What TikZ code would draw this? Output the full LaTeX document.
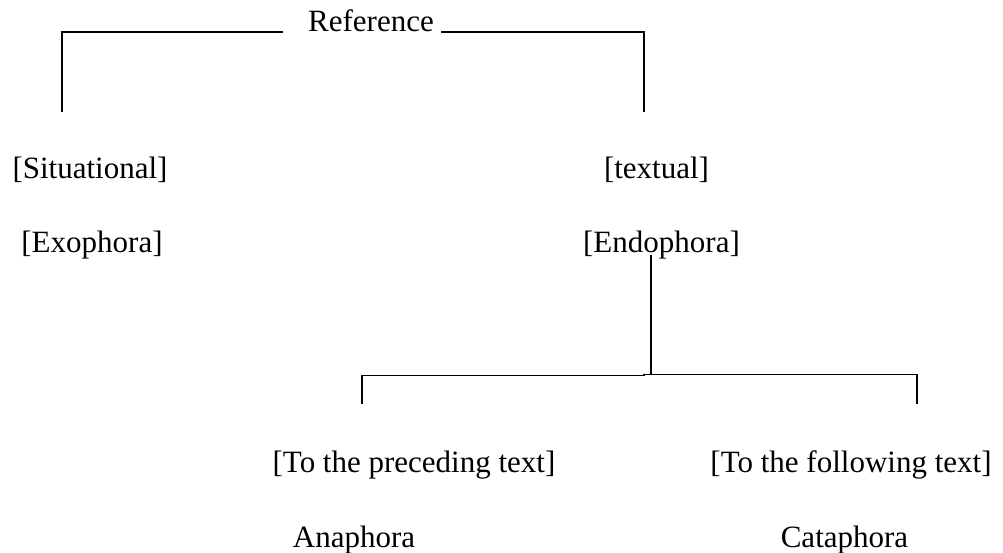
\documentclass[tikz,border=0pt]{standalone}
\usepackage{fontspec}
\setmainfont{Liberation Serif}
\begin{document}
\begin{tikzpicture}[x=1pt,y=-1pt,
  lbl/.style={anchor=base, inner sep=0pt, font=\fontsize{31}{36}\selectfont},
  topline/.style={line width=1.8pt},
  subline/.style={line width=1.5pt}]
\useasboundingbox (0,0) rectangle (1003,553);
% labels
\node[lbl] (ref)  at (371,31.7)   {Reference};
\node[lbl] (sit)  at (90,178.5)   {[Situational]};
\node[lbl] (txt)  at (656.5,178.5) {[textual]};
\node[lbl] (exo)  at (92,252.5)   {[Exophora]};
\node[lbl] (endo) at (661.5,252.5) {[Endophora]};
\node[lbl] (pre)  at (414,472.5)  {[To the preceding text]};
\node[lbl] (fol)  at (851,472.5)  {[To the following text]};
\node[lbl] (ana)  at (354,547.7)  {Anaphora};
\node[lbl] (cat)  at (844.5,547.7) {Cataphora};
% connector ends
\coordinate (refL) at (283,32);
\coordinate (refR) at (441,32);
\coordinate (sitTop) at (62,112);
\coordinate (txtTop) at (644,112);
\coordinate (endoTop) at (651,255);
\coordinate (endoJoin) at (651,374.3);
\coordinate (step) at (644,375.6);
\coordinate (preTop) at (362,403.5);
\coordinate (folTop) at (917,403.5);
% top bracket
\draw[topline] (refL) -| (sitTop);
\draw[topline] (refR) -| (txtTop);
% endophora branch
\draw[subline] (endoTop) -- (endoJoin);
\draw[subline] (preTop) -- (preTop |- step) -- (step) -- (step |- endoJoin) -- (folTop |- endoJoin) -- (folTop);
\end{tikzpicture}
\end{document}
